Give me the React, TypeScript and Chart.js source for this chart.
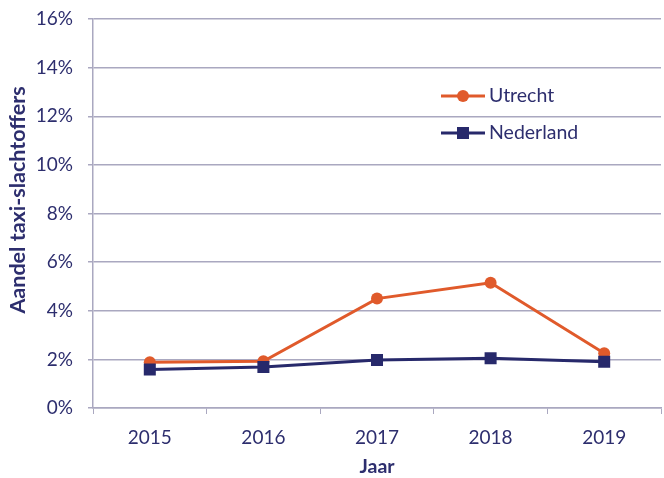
import React, { useEffect, useRef } from "react";
import { Chart, registerables } from "chart.js";

Chart.register(...registerables);

const years = ["2015", "2016", "2017", "2018", "2019"];
const utrecht = [1.88, 1.92, 4.5, 5.15, 2.25];
const nederland = [1.58, 1.69, 1.97, 2.05, 1.9];
const seriesNames = ["Utrecht", "Nederland"];
const yTitle = "Aandel taxi-slachtoffers";
const xTitle = "Jaar";
const yTicksMax = 16;

const ORANGE = "#E05A2B";
const NAVY = "#27296B";
const TEXT = "#2D2E6E";
const GRID = "#AAA8C0";
const FONT = "Lato, 'Open Sans', sans-serif";

const overlayPlugin = {
  id: "overlay",
  afterDatasetsDraw(chart: any) {
    const ctx = chart.ctx;
    const entries = [
      { label: seriesNames[0], color: ORANGE, style: "circle", y: 96 },
      { label: seriesNames[1], color: NAVY, style: "rect", y: 133 },
    ];
    ctx.save();
    entries.forEach((e) => {
      ctx.strokeStyle = e.color;
      ctx.lineWidth = 3;
      ctx.beginPath();
      ctx.moveTo(441, e.y);
      ctx.lineTo(485, e.y);
      ctx.stroke();
      ctx.fillStyle = e.color;
      if (e.style === "circle") {
        ctx.beginPath();
        ctx.arc(463, e.y, 6, 0, Math.PI * 2);
        ctx.fill();
      } else {
        ctx.fillRect(457, e.y - 6, 12, 12);
      }
      ctx.fillStyle = TEXT;
      ctx.font = `19.5px ${FONT}`;
      ctx.textBaseline = "middle";
      ctx.textAlign = "left";
      ctx.fillText(e.label, 489, e.y);
    });
    // x axis title
    const xs = chart.scales.x;
    ctx.font = `bold 19.5px ${FONT}`;
    ctx.textAlign = "center";
    ctx.textBaseline = "alphabetic";
    ctx.fillStyle = TEXT;
    ctx.fillText(xTitle, (xs.left + xs.right) / 2, 473);
    // y axis title
    ctx.translate(18, 200);
    ctx.rotate(-Math.PI / 2);
    ctx.font = `bold 21.5px ${FONT}`;
    ctx.textAlign = "center";
    ctx.textBaseline = "middle";
    ctx.fillText(yTitle, 0, 0);
    ctx.restore();
  },
};

export default function App() {
  const ref = useRef<HTMLCanvasElement>(null);
  useEffect(() => {
    const chart = new Chart(ref.current!, {
      type: "line",
      data: {
        labels: years,
        datasets: [
          {
            label: seriesNames[0],
            data: utrecht,
            borderColor: ORANGE,
            backgroundColor: ORANGE,
            borderWidth: 3,
            pointStyle: "circle",
            pointRadius: 6,
            pointHoverRadius: 6,
            pointBorderWidth: 0,
            order: 1,
          },
          {
            label: seriesNames[1],
            data: nederland,
            borderColor: NAVY,
            backgroundColor: NAVY,
            borderWidth: 3,
            pointStyle: "rect",
            pointRadius: 8.5,
            pointHoverRadius: 8.5,
            pointBorderWidth: 0,
            order: 0,
          },
        ],
      },
      options: {
        responsive: false,
        animation: false,
        layout: { autoPadding: false, padding: { top: 19, right: 3, left: 0, bottom: 0 } },
        plugins: {
          legend: { display: false },
          tooltip: { enabled: false },
        },
        scales: {
          x: {
            offset: true,
            grid: {
              offset: true,
              drawOnChartArea: false,
              drawTicks: true,
              tickLength: 6,
              color: GRID,
            },
            border: { display: true, color: GRID, width: 1.5 },
            ticks: {
              color: TEXT,
              font: { family: FONT, size: 19 },
              padding: 12,
            },
            afterFit: (scale: any) => {
              scale.height = 70;
              scale.paddingLeft = 0;
              scale.paddingRight = 0;
            },
          },
          y: {
            min: 0,
            max: yTicksMax,
            grid: {
              color: GRID,
              lineWidth: 1.5,
              drawTicks: true,
              tickLength: 5,
            },
            border: { display: true, color: GRID, width: 1.5 },
            ticks: {
              stepSize: 2,
              color: TEXT,
              font: { family: FONT, size: 19 },
              padding: 15,
              callback: (v: any) => `${v}%`,
            },
            afterFit: (scale: any) => {
              scale.width = 93;
              scale.paddingTop = 0;
              scale.paddingBottom = 0;
            },
          },
        },
      },
      plugins: [overlayPlugin],
    });
    return () => chart.destroy();
  }, []);
  return (
    <div style={{ position: "fixed", left: 0, top: 0, width: 664, height: 478, background: "#fff" }}>
      <canvas ref={ref} width={664} height={478} />
    </div>
  );
}
